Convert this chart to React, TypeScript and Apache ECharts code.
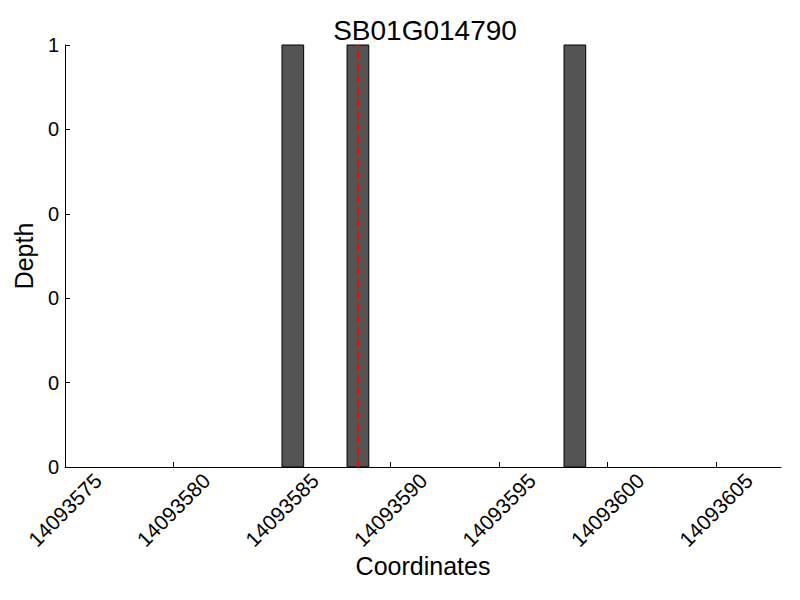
import React, { useEffect, useRef } from "react";
import * as echarts from "echarts";

const title = "SB01G014790";
const barStarts = [14093585, 14093588, 14093598];
const depths = [1, 1, 1];
const markerPosition = 14093588.5;
const xTicks = [14093575, 14093580, 14093585, 14093590, 14093595, 14093600, 14093605];
const xMin = 14093575;
const xMax = 14093608;
const yTicks = [0, 0.2, 0.4, 0.6, 0.8, 1];

const FONT = "Liberation Sans";

export default function App() {
  const ref = useRef<HTMLDivElement>(null);
  useEffect(() => {
    if (!ref.current) return;
    const chart = echarts.init(ref.current, null, { renderer: "svg" });
    const barData = barStarts.map((x, i) => [x, depths[i]]);
    chart.setOption({
      animation: false,
      backgroundColor: "#ffffff",
      title: {
        text: title,
        left: 420,
        top: 11,
        textAlign: "center",
        textStyle: { fontFamily: FONT, fontSize: 28, fontWeight: "normal", color: "#000" },
      },
      grid: { left: 65, right: 19, top: 45, bottom: 133, containLabel: false },
      xAxis: {
        type: "value",
        min: xMin,
        max: xMax,
        interval: 5,
        name: "Coordinates",
        nameLocation: "middle",
        nameGap: 86,
        nameMoveOverlap: false,
        nameTextStyle: { fontFamily: FONT, fontSize: 25, color: "#000" },
        axisLine: { show: true, onZero: false, lineStyle: { color: "#000", width: 1 } },
        axisTick: { show: true, inside: true, length: 5, customValues: xTicks, lineStyle: { color: "#000" } },
        axisLabel: {
          customValues: xTicks,
          rotate: 45,
          align: "center",
          verticalAlign: "middle",
          margin: 43,
          fontFamily: FONT,
          fontSize: 21,
          color: "#000",
          formatter: (v: number) => String(v),
        },
        splitLine: { show: false },
      },
      yAxis: {
        type: "value",
        min: 0,
        max: 1,
        interval: 0.2,
        name: "Depth",
        nameLocation: "middle",
        nameGap: 29,
        nameMoveOverlap: false,
        nameTextStyle: { fontFamily: FONT, fontSize: 25, color: "#000" },
        axisLine: { show: true, lineStyle: { color: "#000", width: 1 } },
        axisTick: { show: true, inside: true, length: 5, customValues: yTicks, lineStyle: { color: "#000" } },
        axisLabel: {
          customValues: yTicks,
          margin: 6,
          fontFamily: FONT,
          fontSize: 20,
          color: "#000",
          formatter: (v: number) => String(Math.floor(v + 1e-9)),
        },
        splitLine: { show: false },
      },
      series: [
        {
          type: "custom",
          data: barData,
          renderItem: (params: any, api: any) => {
            const x0 = api.value(0);
            const y = api.value(1);
            const p0 = api.coord([x0, 0]);
            const p1 = api.coord([x0 + 1, y]);
            return {
              type: "rect",
              shape: { x: p0[0], y: p1[1], width: p1[0] - p0[0], height: p0[1] - p1[1] },
              style: { fill: "#545454", stroke: "#000", lineWidth: 1 },
            };
          },
          z: 2,
        },
        {
          type: "line",
          data: [
            [markerPosition, 0],
            [markerPosition, 1],
          ],
          symbol: "none",
          lineStyle: { color: "#ff0000", width: 2, type: [8, 4] },
          z: 3,
        },
      ],
    });
    return () => chart.dispose();
  }, []);
  return <div ref={ref} style={{ width: 800, height: 600, position: "absolute", left: 0, top: 0 }} />;
}
